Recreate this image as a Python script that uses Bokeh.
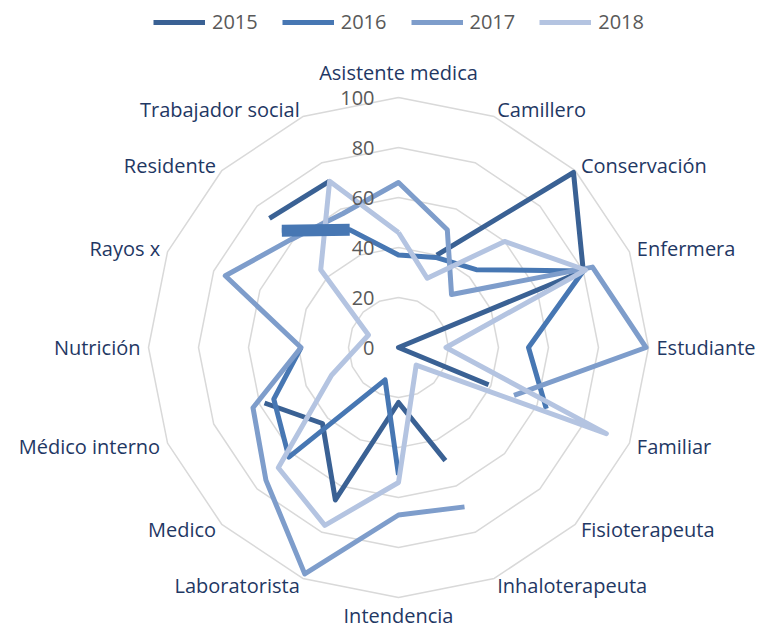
import math
from bokeh.plotting import figure
from bokeh.models import Range1d, Legend, LegendItem
from bokeh.core.properties import value
from bokeh.embed import file_html
from bokeh.resources import INLINE

categories = ["Asistente medica", "Camillero", "Conservación", "Enfermera", "Estudiante",
              "Familiar", "Fisioterapeuta", "Inhaloterapeuta", "Intendencia", "Laboratorista",
              "Medico", "Médico interno", "Nutrición", "Rayos x", "Residente", "Trabajador social"]
years = ["2015", "2016", "2017", "2018"]
v2015 = [None, 40, 99, 80, 0, 39, None, 49, 22, 66, 43, 58, None, None, 73, 72]
v2016 = [37, 39, 44, 80, 52, 64, None, None, 51, 14, 62, 54, 39, None, 66, 51]
v2017 = [66, 51, 30, 84, 99, 50, None, 69, 67, 98, 75, 63, 39, 75, 61, 58]
v2018 = [46, 30, 60, 81, 19, 90, 10, None, 54, 77, 68, 29, None, 13, 44, 72]
ticks = [0, 20, 40, 60, 80, 100]

colors = ["#3A6194", "#4777B3", "#7E9DCB", "#B4C4E1"]
series = [v2015, v2016, v2017, v2018]
connect_gaps = [False, False, False, True]

W, H = 761, 629
CX, CY = 398, 347          # centre in figure pixels (from left / top)
SCALE = 2.5                # pixels per unit
N = len(categories)
FONT = "Open Sans"

def ang(i):
    return 2 * math.pi * i / N

def pol(v, i):
    r = v * SCALE
    return r * math.sin(ang(i)), r * math.cos(ang(i))

p = figure(width=W, height=H, output_backend="svg", toolbar_location=None,
           x_range=Range1d(-CX, W - CX), y_range=Range1d(CY - H, CY),
           x_axis_type=None, y_axis_type=None, min_border=0,
           outline_line_color=None, background_fill_color="white")
p.grid.visible = False

# grid rings
ring_xs, ring_ys = [], []
for t in ticks[1:]:
    pts = [pol(t, i) for i in list(range(N)) + [0]]
    ring_xs.append([q[0] for q in pts])
    ring_ys.append([q[1] for q in pts])
p.multi_line(ring_xs, ring_ys, line_color="#D9D9D9", line_width=1.5)

def runs(vals):
    n = len(vals)
    if all(v is not None for v in vals):
        return [list(range(n)) + [0]]
    start = next(i for i in range(n) if vals[i] is None)
    out, cur = [], []
    for k in range(1, n + 1):
        i = (start + k) % n
        if vals[i] is None:
            if len(cur) > 1:
                out.append(cur)
            cur = []
        else:
            cur.append(i)
    if len(cur) > 1:
        out.append(cur)
    return out

renderers = []
for vals, col, conn in zip(series, colors, connect_gaps):
    if conn:
        idx = [i for i in range(N) if vals[i] is not None]
        groups = [idx + [idx[0]]]
    else:
        groups = runs(vals)
    xs = [[pol(vals[i], i)[0] for i in g] for g in groups]
    ys = [[pol(vals[i], i)[1] for i in g] for g in groups]
    r = p.multi_line(xs, ys, line_color=col, line_width=5, line_join="round")
    renderers.append(r)

# the heavy Residente -> Trabajador social stroke of 2016
hx = [pol(v2016[14], 14)[0], pol(v2016[15], 15)[0]]
hy = [pol(v2016[14], 14)[1], pol(v2016[15], 15)[1]]
p.line(hx, hy, line_color=colors[1], line_width=12)

# tick labels
p.text(x=[-24] * len(ticks), y=[t * SCALE for t in ticks], text=[str(t) for t in ticks],
       text_align="right", text_baseline="middle", text_color="#595959",
       text_font=value(FONT), text_font_size="20px")

# category labels
LR = 258
lx, ly, aligns = [], [], []
for i, c in enumerate(categories):
    s, co = math.sin(ang(i)), math.cos(ang(i))
    x, y = LR * s, LR * co
    if abs(s) < 1e-6:
        y += 17 if co > 0 else -10
        al = "center"
    else:
        al = "left" if s > 0 else "right"
    lx.append(x); ly.append(y); aligns.append(al)
p.text(x=lx, y=ly, text=categories, text_align=aligns, text_baseline="middle",
       text_color="#1F3864", text_font=value(FONT), text_font_size="20px")

legend = Legend(items=[LegendItem(label=y, renderers=[r]) for y, r in zip(years, renderers)],
                orientation="horizontal", location=(153, 594), glyph_width=52, glyph_height=20,
                label_standoff=7, spacing=24, padding=0, margin=0,
                label_text_font=FONT, label_text_font_size="20px", label_text_color="#595959",
                border_line_color=None, background_fill_alpha=0)
p.add_layout(legend)

open("out.html", "w").write(file_html(p, INLINE))
